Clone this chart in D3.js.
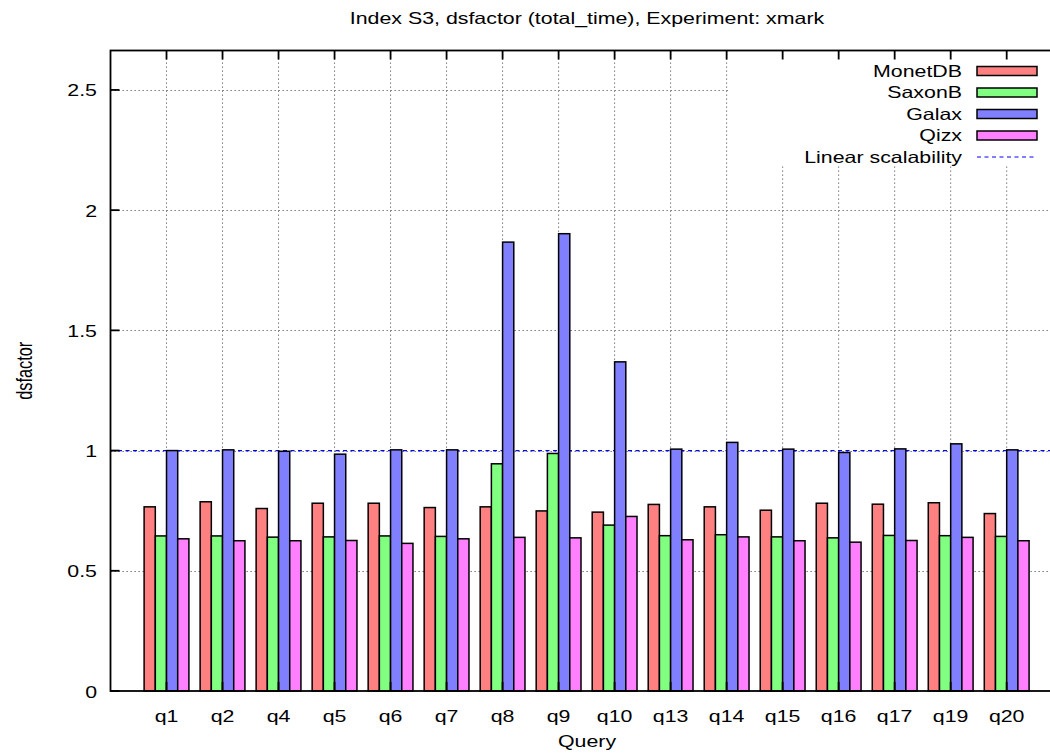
<!DOCTYPE html>
<html>
<head>
<meta charset="utf-8">
<script src="https://cdn.jsdelivr.net/npm/d3@7"></script>
<style>
  html, body { margin: 0; padding: 0; background: #fff; overflow: hidden; }
  svg { display: block; }
  text { font-family: "Liberation Sans", Arial, Helvetica, sans-serif; font-size: 16.3px; fill: #000; }
</style>
</head>
<body>
<svg id="chart" width="1050" height="755"></svg>
<script>
// ---- data ----
const categories = ["q1","q2","q4","q5","q6","q7","q8","q9","q10","q13","q14","q15","q16","q17","q19","q20"];
const seriesNames = ["MonetDB","SaxonB","Galax","Qizx"];
const monetdb = [0.766,0.787,0.759,0.781,0.781,0.763,0.766,0.749,0.744,0.776,0.766,0.752,0.781,0.777,0.783,0.738];
const saxonb  = [0.645,0.645,0.640,0.641,0.645,0.643,0.945,0.988,0.690,0.646,0.650,0.641,0.637,0.647,0.646,0.643];
const galax   = [1.000,1.003,0.997,0.985,1.003,1.003,1.867,1.902,1.369,1.006,1.034,1.006,0.992,1.007,1.028,1.003];
const qizx    = [0.633,0.625,0.625,0.626,0.614,0.633,0.639,0.637,0.726,0.629,0.641,0.625,0.619,0.626,0.639,0.625];
const linearScalability = 1;
const yTicks = [0, 0.5, 1, 1.5, 2, 2.5];
const yTickLabels = ["0","0.5","1","1.5","2","2.5"];
const titleText = "Index S3, dsfactor (total_time), Experiment: xmark";
const xLabel = "Query";
const yLabel = "dsfactor";
const legendLineLabel = "Linear scalability";

// ---- layout ----
(function draw() {
const colors = ["#ff8080","#80ff80","#8080ff","#ff80ff"];
const seriesValues = [monetdb, saxonb, galax, qizx];
const SX = 1.31; // horizontal text stretch of the reference
const pL = 110.5, pR = 1062.7, pT = 50.5, pB = 691;

const svg = d3.select("#chart");
const x = d3.scaleLinear().domain([-1, 16]).range([pL, pR]);
const y = d3.scaleLinear().domain([0, 2.664]).range([pB, pT]);

function stretchedText(g, tx, ty, str, anchor, rot) {
  return g.append("text")
    .attr("transform", `translate(${tx},${ty}) scale(${SX},1)` + (rot ? ` rotate(${rot})` : ""))
    .attr("text-anchor", anchor)
    .text(str);
}

// grid
const grid = svg.append("g").attr("stroke", "#666").attr("stroke-width", 1).attr("stroke-dasharray", "1.3,2.7");
yTicks.filter(t => t > 0).forEach(t => {
  grid.append("line").attr("x1", pL).attr("x2", pR).attr("y1", Math.round(y(t)) + 0.5).attr("y2", Math.round(y(t)) + 0.5);
});
categories.forEach((c, i) => {
  grid.append("line").attr("x1", x(i)).attr("x2", x(i)).attr("y1", pT).attr("y2", pB);
});

// opaque legend area
svg.append("rect").attr("x", 730).attr("y", pT + 1).attr("width", pR - 730).attr("height", 166 - pT - 1).attr("fill", "#fff");

// linear scalability line
svg.append("line")
  .attr("x1", pL).attr("x2", pR)
  .attr("y1", y(linearScalability)).attr("y2", y(linearScalability))
  .attr("stroke", "#0000ff").attr("stroke-width", 1.2).attr("stroke-dasharray", "4,3.5");

// bars
const barW = 0.2;
seriesValues.forEach((vals, s) => {
  svg.append("g").selectAll("rect").data(vals).join("rect")
    .attr("x", (d, i) => x(i - 0.4 + barW * s))
    .attr("width", x(barW) - x(0))
    .attr("y", d => y(d))
    .attr("height", d => y(0) - y(d))
    .attr("fill", colors[s])
    .attr("stroke", "#000")
    .attr("stroke-width", 1.5);
});

// border and ticks
const axes = svg.append("g").attr("stroke", "#000").attr("stroke-width", 1.8).attr("fill", "none");
axes.append("rect").attr("x", pL).attr("y", pT).attr("width", pR - pL).attr("height", pB - pT);
yTicks.forEach(t => {
  axes.append("line").attr("x1", pL).attr("x2", pL + 9).attr("y1", y(t)).attr("y2", y(t));
});
categories.forEach((c, i) => {
  axes.append("line").attr("x1", x(i)).attr("x2", x(i)).attr("y1", pT).attr("y2", pT + 9);
  axes.append("line").attr("x1", x(i)).attr("x2", x(i)).attr("y1", pB).attr("y2", pB - 9);
});

// tick labels
const labels = svg.append("g");
yTicks.forEach((t, i) => stretchedText(labels, 97, y(t) + 6.5, yTickLabels[i], "end"));
categories.forEach((c, i) => stretchedText(labels, x(i), 721.5, c, "middle"));

// titles
stretchedText(labels, 587, 23.5, titleText, "middle");
stretchedText(labels, 587, 747, xLabel, "middle");
stretchedText(labels, 31.5, (pT + pB) / 2, yLabel, "middle", -90);

// legend
const legend = svg.append("g");
const rowY = [71, 92.5, 114, 135.5, 157];
seriesNames.forEach((n, s) => {
  stretchedText(legend, 962, rowY[s] + 5.8, n, "end");
  legend.append("rect").attr("x", 977).attr("y", rowY[s] - 4.5).attr("width", 60).attr("height", 9)
    .attr("fill", colors[s]).attr("stroke", "#000").attr("stroke-width", 1.5);
});
stretchedText(legend, 962, rowY[4] + 5.8, legendLineLabel, "end");
legend.append("line").attr("x1", 977).attr("x2", 1037).attr("y1", rowY[4]).attr("y2", rowY[4])
  .attr("stroke", "#0000ff").attr("stroke-width", 1.2).attr("stroke-dasharray", "4,3.5");
})();
</script>
</body>
</html>
